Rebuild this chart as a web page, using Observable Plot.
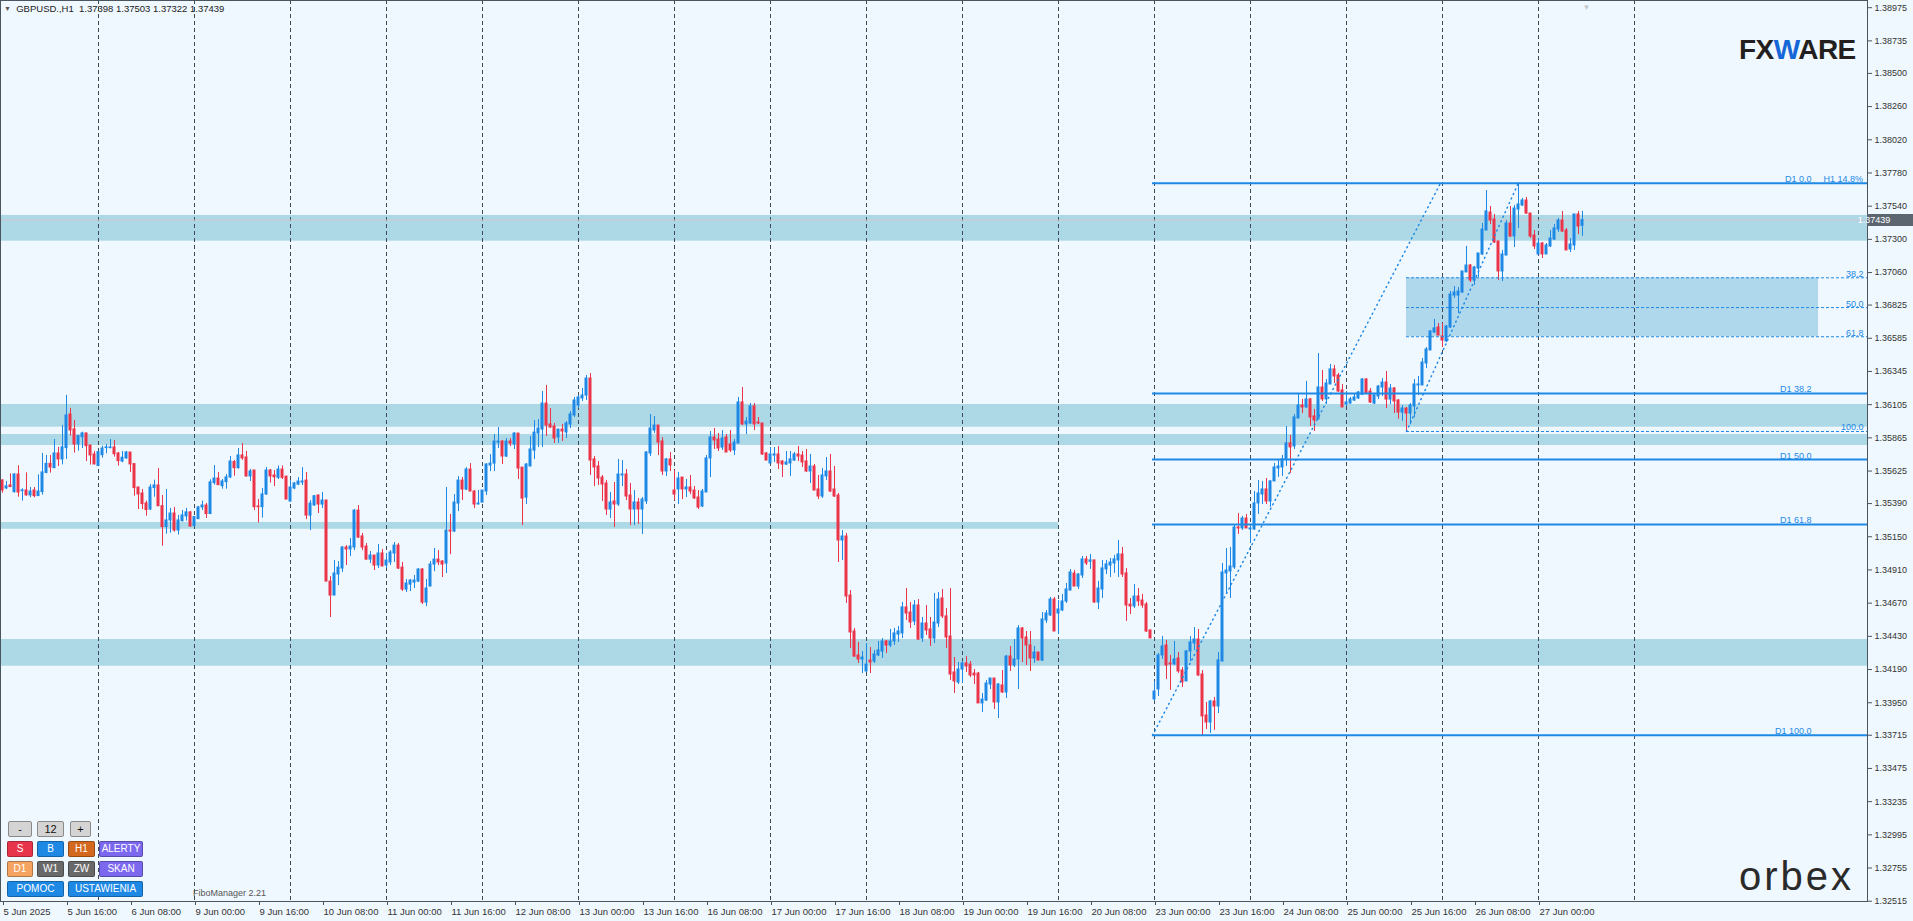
<!DOCTYPE html>
<html><head><meta charset="utf-8">
<script src="https://cdn.jsdelivr.net/npm/d3@7"></script>
<script src="https://cdn.jsdelivr.net/npm/@observablehq/plot@0.6"></script>
<style>
html,body{margin:0;padding:0;background:#F0F8FF;overflow:hidden;}
#wrap{position:relative;width:1913px;height:921px;font-family:"Liberation Sans",Arial,sans-serif;}
#wrap svg{position:absolute;left:0;top:0;}
.ov{position:absolute;white-space:nowrap;line-height:1;}
.btn{position:absolute;height:16px;line-height:14px;text-align:center;font-size:10px;color:#fff;border-radius:2px;box-sizing:border-box;border:1px solid rgba(0,0,0,0.28);overflow:hidden;}
.lt{background:#D4D4D4;color:#111;border-color:#8a8a8a;font-size:11px;}
</style></head><body><div id="wrap"></div>
<script>
// ---------- H1 candles, GBPUSD, 5 Jun 2025 00:00 .. 27 Jun 2025 11:00 ----------
const openP = [
1.35557,1.35499,1.35521,1.35473,1.35600,1.35480,1.35485,1.35449,1.35485,1.35444,1.35473,1.35612,1.35677,1.35646,1.35752,1.35709,1.35791,1.36034,1.35926,1.35817,1.35870,1.35897,1.35810,1.35745,
1.35661,1.35740,1.35791,1.35791,1.35796,1.35752,1.35694,1.35716,1.35759,1.35675,1.35506,1.35463,1.35391,1.35347,1.35502,1.35521,1.35371,1.35220,1.35268,1.35318,1.35195,1.35263,1.35297,1.35326,
1.35227,1.35277,1.35362,1.35376,1.35314,1.35538,1.35571,1.35516,1.35545,1.35579,1.35690,1.35646,1.35738,1.35723,1.35586,1.35629,1.35369,1.35364,1.35456,1.35629,1.35593,1.35576,1.35636,1.35585,
1.35405,1.35499,1.35527,1.35542,1.35556,1.35303,1.35376,1.35448,1.35383,1.35412,1.34826,1.34725,1.34877,1.34920,1.35072,1.35058,1.35072,1.35339,1.35152,1.35079,1.34985,1.35014,1.34942,1.35029,
1.34942,1.34964,1.35029,1.35086,1.34927,1.34768,1.34804,1.34819,1.34826,1.34913,1.34674,1.34790,1.34949,1.34985,1.34971,1.34956,1.35195,1.35188,1.35390,1.35556,1.35491,1.35636,1.35477,1.35383,
1.35397,1.35477,1.35665,1.35679,1.35831,1.35838,1.35730,1.35838,1.35817,1.35896,1.35650,1.35433,1.35658,1.35773,1.35896,1.35925,1.36113,1.35962,1.35947,1.35868,1.35925,1.35904,1.35962,1.36027,
1.36099,1.36150,1.36171,1.36294,1.35709,1.35658,1.35578,1.35535,1.35347,1.35405,1.35383,1.35593,1.35600,1.35448,1.35347,1.35398,1.35347,1.35405,1.35752,1.35918,1.35954,1.35839,1.35622,1.35709,
1.35484,1.35492,1.35578,1.35492,1.35506,1.35484,1.35434,1.35369,1.35470,1.35716,1.35868,1.35853,1.35795,1.35868,1.35817,1.35774,1.35824,1.36121,1.35962,1.35969,1.36092,1.35976,1.35969,1.35752,
1.35680,1.35737,1.35745,1.35694,1.35672,1.35680,1.35701,1.35745,1.35737,1.35694,1.35622,1.35658,1.35492,1.35441,1.35586,1.35622,1.35492,1.35448,1.35123,1.35152,1.34725,1.34465,1.34292,1.34263,
1.34176,1.34255,1.34248,1.34292,1.34320,1.34393,1.34364,1.34393,1.34443,1.34451,1.34639,1.34602,1.34537,1.34653,1.34414,1.34523,1.34480,1.34414,1.34523,1.34704,1.34574,1.34429,1.34169,1.34096,
1.34190,1.34234,1.34226,1.34161,1.34161,1.33945,1.33966,1.34082,1.34125,1.33952,1.34075,1.34024,1.34284,1.34219,1.34263,1.34487,1.34422,1.34364,1.34270,1.34313,1.34255,1.34545,1.34581,1.34696,
1.34595,1.34617,1.34682,1.34761,1.34884,1.34790,1.34870,1.34986,1.34969,1.34979,1.34675,1.34769,1.34914,1.34942,1.34957,1.34979,1.35022,1.34885,1.34660,1.34646,1.34718,1.34689,1.34660,1.34473,
1.33974,1.34046,1.34292,1.34364,1.34234,1.34227,1.34270,1.34183,1.34104,1.34321,1.34379,1.34407,1.34154,1.33858,1.33807,1.33959,1.33923,1.34248,1.34885,1.34899,1.34928,1.35217,1.35210,1.35282,
1.35203,1.35203,1.35391,1.35456,1.35492,1.35405,1.35550,1.35644,1.35651,1.35709,1.35825,1.35803,1.36005,1.36099,1.36085,1.36143,1.36020,1.35998,1.36229,1.36143,1.36251,1.36360,1.36316,1.36208,
1.36106,1.36114,1.36135,1.36150,1.36178,1.36287,1.36200,1.36113,1.36164,1.36229,1.36265,1.36142,1.36222,1.36135,1.36048,1.36077,1.36041,1.36092,1.36244,1.36244,1.36403,1.36497,1.36627,1.36663,
1.36598,1.36562,1.36663,1.36894,1.36894,1.36916,1.37061,1.37111,1.37003,1.37089,1.37191,1.37364,1.37494,1.37444,1.37285,1.37068,1.37183,1.37415,1.37321,1.37516,1.37545,1.37581,1.37487,1.37328,
1.37191,1.37270,1.37191,1.37249,1.37299,1.37371,1.37436,1.37364,1.37227,1.37256,1.37480,1.37398];
const highP = [
1.35562,1.35550,1.35605,1.35605,1.35663,1.35497,1.35612,1.35506,1.35506,1.35598,1.35752,1.35738,1.35738,1.35853,1.35796,1.35955,1.36172,1.36078,1.35991,1.35882,1.35906,1.35897,1.35810,1.35767,
1.35767,1.35805,1.35817,1.35853,1.35846,1.35759,1.35767,1.35767,1.35759,1.35680,1.35506,1.35492,1.35408,1.35528,1.35559,1.35644,1.35449,1.35492,1.35355,1.35362,1.35304,1.35340,1.35355,1.35333,
1.35297,1.35369,1.35408,1.35391,1.35562,1.35665,1.35615,1.35564,1.35600,1.35731,1.35702,1.35788,1.35825,1.35767,1.35637,1.35629,1.35420,1.35499,1.35651,1.35637,1.35629,1.35662,1.35662,1.35585,
1.35556,1.35542,1.35578,1.35650,1.35614,1.35412,1.35448,1.35453,1.35470,1.35412,1.34862,1.34978,1.34971,1.35079,1.35086,1.35137,1.35347,1.35376,1.35173,1.35101,1.35043,1.35014,1.35094,1.35058,
1.35029,1.35050,1.35108,1.35101,1.34964,1.34841,1.34841,1.34870,1.34920,1.34920,1.34841,1.34971,1.35065,1.35050,1.34978,1.35506,1.35311,1.35455,1.35585,1.35578,1.35650,1.35679,1.35484,1.35484,
1.35484,1.35679,1.35744,1.35889,1.35940,1.35846,1.35860,1.35860,1.35903,1.35896,1.35650,1.35679,1.35875,1.35990,1.35997,1.36200,1.36244,1.36077,1.35969,1.35925,1.35962,1.35983,1.36056,1.36157,
1.36171,1.36222,1.36316,1.36330,1.35730,1.35694,1.35593,1.35557,1.35470,1.35542,1.35709,1.35701,1.35636,1.35535,1.35484,1.35427,1.35434,1.35766,1.36034,1.36019,1.35954,1.35868,1.35716,1.35759,
1.35629,1.35615,1.35578,1.35564,1.35593,1.35513,1.35484,1.35492,1.35737,1.35911,1.35933,1.35897,1.35918,1.35889,1.35918,1.35853,1.36157,1.36229,1.36012,1.36113,1.36113,1.36012,1.35969,1.35759,
1.35795,1.35795,1.35803,1.35701,1.35766,1.35766,1.35759,1.35803,1.35766,1.35781,1.35745,1.35672,1.35593,1.35644,1.35723,1.35745,1.35658,1.35463,1.35195,1.35174,1.34761,1.34487,1.34386,1.34320,
1.34378,1.34349,1.34328,1.34393,1.34414,1.34400,1.34480,1.34487,1.34501,1.34675,1.34776,1.34675,1.34689,1.34696,1.34566,1.34653,1.34566,1.34740,1.34747,1.34769,1.34631,1.34776,1.34277,1.34241,
1.34248,1.34284,1.34248,1.34190,1.34169,1.34017,1.34111,1.34125,1.34125,1.34089,1.34183,1.34292,1.34357,1.34407,1.34508,1.34494,1.34465,1.34465,1.34357,1.34313,1.34602,1.34617,1.34711,1.34711,
1.34689,1.34733,1.34812,1.34913,1.34906,1.34884,1.35007,1.35007,1.35022,1.34979,1.34827,1.34979,1.34979,1.34993,1.35015,1.35123,1.35073,1.34921,1.34704,1.34805,1.34776,1.34733,1.34675,1.34473,
1.34104,1.34306,1.34429,1.34400,1.34292,1.34393,1.34313,1.34205,1.34328,1.34429,1.34494,1.34480,1.34183,1.33952,1.33966,1.33988,1.34313,1.34957,1.35065,1.35073,1.35232,1.35318,1.35297,1.35311,
1.35239,1.35477,1.35557,1.35550,1.35571,1.35557,1.35680,1.35702,1.35738,1.35947,1.35882,1.36034,1.36179,1.36143,1.36273,1.36150,1.36070,1.36475,1.36352,1.36287,1.36396,1.36388,1.36331,1.36251,
1.36200,1.36157,1.36179,1.36200,1.36294,1.36294,1.36222,1.36186,1.36244,1.36294,1.36345,1.36251,1.36229,1.36142,1.36099,1.36084,1.36113,1.36287,1.36309,1.36439,1.36518,1.36641,1.36721,1.36692,
1.36692,1.36677,1.36923,1.36959,1.36952,1.37068,1.37249,1.37118,1.37104,1.37198,1.37415,1.37653,1.37538,1.37480,1.37285,1.37220,1.37436,1.37538,1.37545,1.37710,1.37596,1.37603,1.37487,1.37364,
1.37306,1.37277,1.37270,1.37364,1.37408,1.37451,1.37502,1.37379,1.37306,1.37480,1.37502,1.37503];
const lowP = [
1.35465,1.35492,1.35509,1.35465,1.35436,1.35408,1.35444,1.35432,1.35432,1.35444,1.35451,1.35605,1.35610,1.35646,1.35658,1.35670,1.35709,1.35878,1.35755,1.35769,1.35788,1.35694,1.35668,1.35670,
1.35661,1.35718,1.35750,1.35786,1.35726,1.35661,1.35685,1.35711,1.35615,1.35444,1.35347,1.35347,1.35299,1.35340,1.35436,1.35367,1.35082,1.35169,1.35176,1.35183,1.35162,1.35256,1.35263,1.35220,
1.35220,1.35275,1.35340,1.35282,1.35311,1.35523,1.35521,1.35494,1.35494,1.35571,1.35588,1.35639,1.35702,1.35581,1.35550,1.35340,1.35249,1.35285,1.35449,1.35538,1.35513,1.35564,1.35564,1.35419,
1.35400,1.35491,1.35520,1.35520,1.35274,1.35195,1.35371,1.35318,1.35354,1.34826,1.34566,1.34725,1.34797,1.34891,1.34942,1.35007,1.35050,1.35137,1.35050,1.34978,1.34956,1.34906,1.34920,1.34935,
1.34920,1.34942,1.34964,1.34913,1.34754,1.34747,1.34754,1.34776,1.34819,1.34660,1.34645,1.34790,1.34898,1.34942,1.34855,1.34884,1.35021,1.35180,1.35332,1.35412,1.35484,1.35477,1.35354,1.35383,
1.35397,1.35448,1.35621,1.35621,1.35788,1.35672,1.35723,1.35802,1.35781,1.35564,1.35231,1.35383,1.35658,1.35708,1.35795,1.35795,1.35875,1.35933,1.35824,1.35824,1.35839,1.35860,1.35933,1.36012,
1.36077,1.36128,1.36135,1.35593,1.35513,1.35521,1.35405,1.35304,1.35282,1.35217,1.35369,1.35513,1.35412,1.35231,1.35231,1.35239,1.35166,1.35383,1.35730,1.35897,1.35737,1.35593,1.35586,1.35622,
1.35412,1.35383,1.35419,1.35434,1.35455,1.35419,1.35347,1.35361,1.35470,1.35578,1.35781,1.35766,1.35774,1.35759,1.35759,1.35737,1.35824,1.35954,1.35889,1.35962,1.35918,1.35962,1.35737,1.35701,
1.35680,1.35687,1.35636,1.35578,1.35665,1.35586,1.35694,1.35694,1.35651,1.35615,1.35535,1.35484,1.35419,1.35427,1.35557,1.35470,1.35434,1.34964,1.34978,1.34668,1.34342,1.34277,1.34234,1.34161,
1.34169,1.34161,1.34234,1.34284,1.34270,1.34306,1.34349,1.34364,1.34386,1.34414,1.34545,1.34487,1.34508,1.34400,1.34386,1.34436,1.34357,1.34378,1.34494,1.34559,1.34342,1.34111,1.34017,1.34082,
1.34089,1.34169,1.34132,1.34082,1.33945,1.33879,1.33959,1.34046,1.33901,1.33836,1.34017,1.33981,1.34176,1.34205,1.34046,1.34241,1.34219,1.34176,1.34234,1.34255,1.34248,1.34523,1.34574,1.34465,
1.34443,1.34610,1.34668,1.34761,1.34790,1.34769,1.34848,1.34942,1.34914,1.34668,1.34624,1.34704,1.34877,1.34856,1.34885,1.34856,1.34856,1.34538,1.34588,1.34632,1.34646,1.34632,1.34458,1.34415,
1.33959,1.33995,1.34263,1.34118,1.34039,1.34219,1.34162,1.34060,1.34104,1.34248,1.34328,1.34140,1.33706,1.33757,1.33728,1.33750,1.33872,1.34248,1.34733,1.34704,1.34914,1.35167,1.35196,1.35210,
1.35102,1.35196,1.35311,1.35383,1.35383,1.35362,1.35550,1.35579,1.35586,1.35658,1.35608,1.35781,1.36005,1.36041,1.36078,1.35947,1.35911,1.35998,1.36128,1.36106,1.36251,1.36258,1.36193,1.36085,
1.36092,1.36106,1.36128,1.36143,1.36171,1.36178,1.36113,1.36106,1.36142,1.36164,1.36077,1.36106,1.36041,1.36000,1.35985,1.35911,1.35960,1.36010,1.36171,1.36244,1.36366,1.36497,1.36619,1.36605,
1.36518,1.36554,1.36656,1.36873,1.36764,1.36909,1.37061,1.36988,1.36967,1.37024,1.37183,1.37364,1.37408,1.37270,1.37003,1.36995,1.37183,1.37314,1.37241,1.37379,1.37538,1.37480,1.37306,1.37227,
1.37191,1.37162,1.37191,1.37241,1.37292,1.37350,1.37350,1.37220,1.37205,1.37220,1.37335,1.37322];
const closeP = [
1.35485,1.35514,1.35509,1.35600,1.35470,1.35485,1.35449,1.35477,1.35444,1.35477,1.35615,1.35677,1.35651,1.35752,1.35709,1.35796,1.36027,1.35918,1.35817,1.35878,1.35897,1.35805,1.35738,1.35673,
1.35762,1.35788,1.35796,1.35796,1.35747,1.35697,1.35721,1.35759,1.35673,1.35502,1.35456,1.35386,1.35343,1.35506,1.35521,1.35371,1.35220,1.35268,1.35318,1.35195,1.35268,1.35304,1.35326,1.35224,
1.35292,1.35362,1.35376,1.35314,1.35543,1.35571,1.35523,1.35550,1.35579,1.35694,1.35646,1.35738,1.35716,1.35586,1.35622,1.35364,1.35364,1.35456,1.35629,1.35586,1.35580,1.35636,1.35576,1.35419,
1.35506,1.35535,1.35549,1.35549,1.35303,1.35390,1.35443,1.35383,1.35412,1.34826,1.34725,1.34884,1.34927,1.35072,1.35058,1.35079,1.35339,1.35144,1.35072,1.34985,1.35014,1.34942,1.35029,1.34935,
1.34978,1.35036,1.35086,1.34920,1.34768,1.34812,1.34833,1.34833,1.34913,1.34674,1.34776,1.34949,1.34985,1.34964,1.34949,1.35195,1.35188,1.35397,1.35556,1.35491,1.35636,1.35477,1.35383,1.35390,
1.35484,1.35672,1.35679,1.35838,1.35838,1.35730,1.35838,1.35824,1.35896,1.35643,1.35426,1.35672,1.35781,1.35903,1.35932,1.36113,1.35954,1.35940,1.35860,1.35925,1.35911,1.35969,1.36034,1.36135,
1.36157,1.36171,1.36294,1.35701,1.35651,1.35571,1.35528,1.35347,1.35398,1.35383,1.35600,1.35600,1.35441,1.35347,1.35398,1.35347,1.35419,1.35759,1.35933,1.35954,1.35831,1.35622,1.35709,1.35665,
1.35455,1.35571,1.35492,1.35506,1.35477,1.35427,1.35361,1.35477,1.35716,1.35868,1.35846,1.35788,1.35860,1.35759,1.35774,1.35831,1.36121,1.35962,1.35983,1.36092,1.35962,1.35969,1.35745,1.35701,
1.35745,1.35745,1.35680,1.35672,1.35687,1.35709,1.35745,1.35730,1.35687,1.35622,1.35658,1.35484,1.35441,1.35593,1.35622,1.35477,1.35441,1.35123,1.35152,1.34718,1.34458,1.34284,1.34263,1.34277,
1.34226,1.34241,1.34299,1.34328,1.34393,1.34364,1.34393,1.34451,1.34465,1.34639,1.34595,1.34530,1.34653,1.34407,1.34523,1.34472,1.34414,1.34530,1.34696,1.34574,1.34422,1.34154,1.34104,1.34190,
1.34234,1.34212,1.34147,1.34147,1.33945,1.33973,1.34089,1.34125,1.33952,1.34082,1.34024,1.34284,1.34219,1.34263,1.34487,1.34414,1.34364,1.34270,1.34313,1.34255,1.34552,1.34595,1.34696,1.34465,
1.34624,1.34682,1.34769,1.34892,1.34790,1.34877,1.34986,1.34957,1.34979,1.34675,1.34776,1.34921,1.34950,1.34964,1.34986,1.35022,1.34877,1.34653,1.34646,1.34718,1.34682,1.34653,1.34465,1.34415,
1.34031,1.34292,1.34357,1.34219,1.34227,1.34263,1.34176,1.34097,1.34321,1.34386,1.34407,1.34147,1.33851,1.33807,1.33959,1.33923,1.34256,1.34892,1.34906,1.34935,1.35217,1.35210,1.35282,1.35210,
1.35210,1.35391,1.35463,1.35492,1.35405,1.35550,1.35651,1.35658,1.35709,1.35825,1.35796,1.36013,1.36099,1.36085,1.36143,1.36013,1.35991,1.36229,1.36143,1.36258,1.36360,1.36309,1.36200,1.36085,
1.36121,1.36143,1.36157,1.36193,1.36287,1.36186,1.36121,1.36171,1.36236,1.36265,1.36142,1.36222,1.36128,1.36048,1.36077,1.36041,1.36099,1.36251,1.36251,1.36410,1.36504,1.36634,1.36656,1.36605,
1.36569,1.36670,1.36901,1.36916,1.36923,1.37068,1.37111,1.37003,1.37097,1.37198,1.37371,1.37502,1.37436,1.37277,1.37068,1.37191,1.37415,1.37321,1.37523,1.37552,1.37581,1.37487,1.37321,1.37249,
1.37270,1.37191,1.37256,1.37306,1.37379,1.37436,1.37357,1.37220,1.37263,1.37480,1.37393,1.37439];

// ---------- axes ----------
const priceTicks = [1.38975,1.38735,1.38500,1.38260,1.38020,1.37780,1.37540,1.37300,1.37060,1.36825,1.36585,1.36345,1.36105,1.35865,1.35625,1.35390,1.35150,1.34910,1.34670,1.34430,1.34190,1.33950,1.33715,1.33475,1.33235,1.32995,1.32755,1.32515];
const timeTickBars = [0,16,32,48,64,80,96,112,128,144,160,176,192,208,224,240,256,272,288,304,320,336,352,368,384];
const timeTickLabels = ["5 Jun 2025","5 Jun 16:00","6 Jun 08:00","9 Jun 00:00","9 Jun 16:00","10 Jun 08:00","11 Jun 00:00","11 Jun 16:00","12 Jun 08:00","13 Jun 00:00","13 Jun 16:00","16 Jun 08:00","17 Jun 00:00","17 Jun 16:00","18 Jun 08:00","19 Jun 00:00","19 Jun 16:00","20 Jun 08:00","23 Jun 00:00","23 Jun 16:00","24 Jun 08:00","25 Jun 00:00","25 Jun 16:00","26 Jun 08:00","27 Jun 00:00"];
const daySeparatorBars = [24,48,72,96,120,144,168,192,216,240,264,288,312,336,360,384,408];

// ---------- support / resistance zones ----------
const zoneHigh = [1.37473, 1.36106, 1.35889, 1.35253, 1.34407];
const zoneLow  = [1.37287, 1.35942, 1.35810, 1.35204, 1.34214];
const zoneEndBar = [null, null, null, 264, null];

// ---------- D1 Fibonacci ----------
const d1Labels = ["D1 0.0","D1 38.2","D1 50.0","D1 61.8","D1 100.0"];
const d1Prices = [1.37706, 1.36186, 1.35708, 1.35239, 1.33715];
const d1StartBar = 287.5;
const d1TrendBars = [287.5, 359.5];
const d1TrendPrices = [1.33715, 1.37706];

// ---------- H1 Fibonacci ----------
const h1Labels = ["38.2","50.0","61.8","100.0"];
const h1Prices = [1.37022, 1.36807, 1.36596, 1.35911];
const h1StartBar = 351;
const h1BoxEndBar = 454;
const h1TrendBars = [351, 379];
const h1TrendPrices = [1.35911, 1.37710];

// ---------- build ----------
const n = closeP.length;
if ([openP.length, highP.length, lowP.length].some(l => l !== n)) throw new Error("length mismatch " + [openP.length, highP.length, lowP.length, n]);
const bull = "#1E88E5", bear = "#EB3349", fibBlue = "#1E88E5";
const bars = closeP.map((c, i) => ({i, o: openP[i], h: highP[i], l: lowP[i], c, col: c >= openP[i] ? bull : bear}));
const lastClose = closeP[n - 1];
const xLeft = -0.5, xRight = 466.25;
const zones = zoneHigh.map((hi, k) => ({hi, lo: zoneLow[k], x2: zoneEndBar[k] == null ? xRight : zoneEndBar[k]}));
const d1 = d1Prices.map((p, k) => ({p, label: d1Labels[k]}));
const h1 = h1Prices.map((p, k) => ({p, label: h1Labels[k]}));
const d1Trend = d1TrendBars.map((b, k) => ({b, p: d1TrendPrices[k]}));
const h1Trend = h1TrendBars.map((b, k) => ({b, p: h1TrendPrices[k]}));
const h1Box = [{x1: h1StartBar, x2: h1BoxEndBar, lo: h1Prices[2], hi: h1Prices[0]}];
const tickLabel = new Map(timeTickBars.map((b, k) => [b, timeTickLabels[k]]));

const priceBox = (index, scales, values, dim) => {
  const y = scales.y(lastClose);
  const x0 = dim.width - dim.marginRight;
  const g = d3.create("svg:g");
  g.append("rect").attr("x", x0).attr("y", Math.round(y) - 6).attr("width", dim.marginRight).attr("height", 12).attr("fill", "#5B6671");
  g.append("text").attr("x", x0 + 7).attr("y", y).attr("dy", "0.35em").attr("fill", "#fff")
    .attr("font-size", 9).attr("font-family", "Liberation Sans, Arial, sans-serif").text(lastClose.toFixed(5));
  return g.node();
};

const chart = Plot.plot({
  width: 1913, height: 921,
  marginLeft: 0, marginRight: 46, marginTop: 0, marginBottom: 20,
  x: {domain: [xLeft, xRight]},
  y: {domain: [1.32513, 1.39027]},
  color: {type: "identity"},
  style: {background: "#F0F8FF", fontFamily: "Liberation Sans, Arial, sans-serif", overflow: "visible"},
  marks: [
    Plot.rect(zones, {x1: xLeft, x2: "x2", y1: "lo", y2: "hi", fill: "#ADD8E6"}),
    Plot.rect(h1Box, {x1: "x1", x2: "x2", y1: "lo", y2: "hi", fill: "#B0D8EC"}),
    Plot.ruleX(daySeparatorBars, {x: d => d, stroke: "#3E4A56", strokeDasharray: "4,3"}),
    Plot.ruleY([lastClose], {stroke: "#D2C6CE"}),
    Plot.ruleX(bars, {x: "i", y1: "l", y2: "h", stroke: "col"}),
    Plot.rect(bars, {x1: d => d.i - 0.375, x2: d => d.i + 0.375, y1: "o", y2: "c", fill: "col", insetTop: -0.5, insetBottom: -0.5}),
    Plot.ruleY(d1, {y: "p", x1: d1StartBar, x2: xRight, stroke: fibBlue, strokeWidth: 2}),
    Plot.ruleY(h1, {y: "p", x1: h1StartBar, x2: xRight, stroke: fibBlue, strokeDasharray: "3,2"}),
    Plot.line(d1Trend, {x: "b", y: "p", stroke: fibBlue, strokeDasharray: "1,4"}),
    Plot.line(h1Trend, {x: "b", y: "p", stroke: fibBlue, strokeDasharray: "1,4"}),
    Plot.text(d1, {y: "p", text: "label", frameAnchor: "right", dx: -56, textAnchor: "end", lineAnchor: "bottom", dy: -1, fill: fibBlue, fontSize: 9}),
    Plot.text([d1[0]], {y: "p", text: () => "H1 14.8%", frameAnchor: "right", dx: -44, textAnchor: "start", lineAnchor: "bottom", dy: -1, fill: fibBlue, fontSize: 9}),
    Plot.text(h1, {y: "p", text: "label", frameAnchor: "right", dx: -4, textAnchor: "end", lineAnchor: "bottom", dy: -1, fill: fibBlue, fontSize: 9}),
    Plot.text([n], {x: d => d, frameAnchor: "top", dy: 4, text: () => "\u25BC", fill: "#C4C8CC", fontSize: 8}),
    Plot.frame({stroke: "#4A5560"}),
    Plot.axisY({anchor: "right", ticks: priceTicks, tickFormat: d => d.toFixed(5), tickSize: 4, tickPadding: 3, fontSize: 9, fill: "#333", stroke: "#4A5560"}),
    Plot.axisX({anchor: "bottom", ticks: timeTickBars, tickFormat: d => tickLabel.get(d), textAnchor: "start", tickSize: 4, tickPadding: 3, dx: 1, fontSize: 9.5, fill: "#333", stroke: "#4A5560"}),
    priceBox
  ]
});

const wrap = document.getElementById("wrap");
wrap.appendChild(chart);

function ov(html, css, cls) {
  const d = document.createElement("div");
  d.className = cls || "ov";
  d.innerHTML = html;
  Object.assign(d.style, css);
  wrap.appendChild(d);
  return d;
}
// header
ov('<span style="color:#555;font-size:7px;vertical-align:1px">\u25BC</span>&nbsp; GBPUSD.,H1&nbsp; 1.37398 1.37503 1.37322 1.37439', {left: "4px", top: "4px", fontSize: "9.5px", color: "#222"});
// FXWARE logo
ov('FX<span style="color:#1566D6">W</span>ARE', {left: "1739px", top: "36px", fontSize: "28px", fontWeight: "bold", color: "#231F20", letterSpacing: "-0.5px"});
// orbex logo
ov('orbex', {left: "1739px", top: "856px", fontSize: "40px", color: "#2A2A2A", letterSpacing: "3px"});
// FiboManager caption
ov('FiboManager 2.21', {left: "193px", top: "889px", fontSize: "9px", color: "#555"});
// control buttons
const buttons = [
  ["-", 8, 821, 24, "lt"], ["12", 37, 821, 27, "lt"], ["+", 70, 821, 21, "lt"],
  ["S", 7, 841, 26, "#E8344A"], ["B", 37, 841, 27, "#1E88E5"], ["H1", 68, 841, 27, "#D2691E"], ["ALERTY", 99, 841, 44, "#7B68EE"],
  ["D1", 7, 861, 26, "#F4A460"], ["W1", 37, 861, 27, "#696969"], ["ZW", 68, 861, 27, "#696969"], ["SKAN", 99, 861, 44, "#7B68EE"],
  ["POMOC", 7, 881, 57, "#1E88E5"], ["USTAWIENIA", 68, 881, 75, "#1E88E5"]
];
for (const [t, x, y, w, c] of buttons) {
  const b = ov(t, {left: x + "px", top: y + "px", width: w + "px"}, c === "lt" ? "btn lt" : "btn");
  if (c !== "lt") b.style.background = c;
}
</script></body></html>
